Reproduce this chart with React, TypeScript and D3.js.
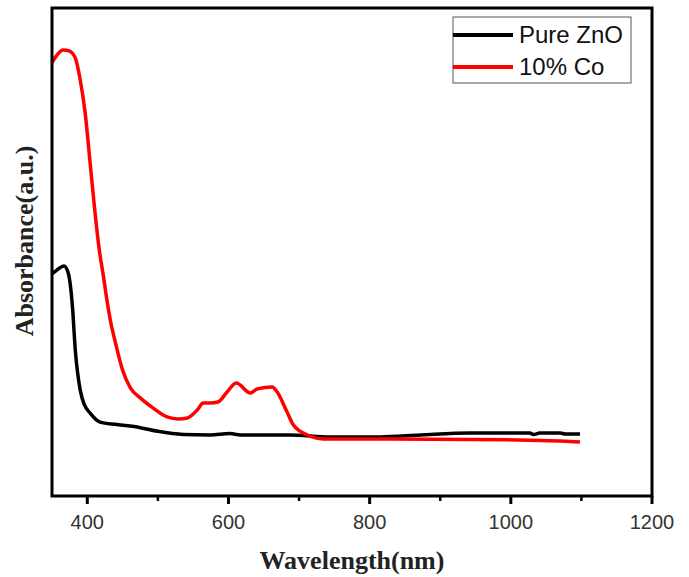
import React from "react";
import * as d3 from "d3";

const wavelengthsRed = [350, 357, 366, 374, 383, 390, 397, 404, 411, 417, 423, 428, 433, 440, 450, 461, 475, 493, 513, 529, 542, 557, 564, 574, 585, 598, 611, 631, 641, 662, 669, 683, 692, 712, 734, 829, 1009, 1070, 1098];
const valuesRed = [1.775, 1.807, 1.828, 1.824, 1.795, 1.705, 1.57, 1.365, 1.16, 1.008, 0.898, 0.8, 0.715, 0.627, 0.516, 0.443, 0.402, 0.361, 0.324, 0.316, 0.32, 0.357, 0.381, 0.381, 0.385, 0.426, 0.463, 0.422, 0.439, 0.447, 0.426, 0.344, 0.291, 0.25, 0.234, 0.234, 0.23, 0.225, 0.221];

const wavelengthsBlack = [350, 357, 367, 373, 379, 383, 390, 396, 404, 418, 442, 475, 500, 536, 574, 602, 617, 687, 744, 815, 872, 942, 1027, 1032, 1041, 1070, 1077, 1098];
const valuesBlack = [0.91, 0.926, 0.943, 0.914, 0.775, 0.598, 0.434, 0.373, 0.34, 0.303, 0.293, 0.28, 0.265, 0.252, 0.25, 0.256, 0.25, 0.25, 0.242, 0.242, 0.25, 0.258, 0.258, 0.252, 0.258, 0.258, 0.254, 0.254];

const majorTicks = [400, 600, 800, 1000, 1200];
const minorTicks = [500, 700, 900, 1100];
const seriesNames = ["Pure ZnO", "10% Co"];
const seriesColors = ["#000000", "#ff0000"];

const W = 689, H = 577;
const L = 52, R = 652, T = 8, B = 496;

export default function App() {
  const x = d3.scaleLinear().domain([350, 1200]).range([L, R]);
  const y = d3.scaleLinear().domain([0, 2]).range([B, T]);
  const line = d3.line<[number, number]>().x(d => x(d[0])).y(d => y(d[1])).curve(d3.curveMonotoneX);
  const black = line(wavelengthsBlack.map((w, i) => [w, valuesBlack[i]]) as [number, number][]) || "";
  const red = line(wavelengthsRed.map((w, i) => [w, valuesRed[i]]) as [number, number][]) || "";
  return (
    <svg width={W} height={H} style={{ position: "absolute", left: 0, top: 0, background: "#fff" }}>
      <rect x={0} y={0} width={W} height={H} fill="#fff" />
      <path d={black} fill="none" stroke={seriesColors[0]} strokeWidth={3.5} strokeLinejoin="round" />
      <path d={red} fill="none" stroke={seriesColors[1]} strokeWidth={3.5} strokeLinejoin="round" />
      <rect x={L} y={T} width={R - L} height={B - T} fill="none" stroke="#000" strokeWidth={3} />
      {majorTicks.map(t => (
        <g key={t}>
          <line x1={x(t)} x2={x(t)} y1={B} y2={B + 8} stroke="#000" strokeWidth={3} />
          <text x={x(t)} y={529} textAnchor="middle" fontFamily="Liberation Sans, Arial, sans-serif" fontSize={20} fill="#333">{t}</text>
        </g>
      ))}
      {minorTicks.map(t => (
        <line key={t} x1={x(t)} x2={x(t)} y1={B} y2={B + 5} stroke="#000" strokeWidth={2.5} />
      ))}
      <text x={352} y={569} textAnchor="middle" fontFamily="Liberation Serif, 'Times New Roman', serif" fontWeight="bold" fontSize={26} fill="#222">Wavelength(nm)</text>
      <text transform={`translate(33,241) rotate(-90)`} textAnchor="middle" fontFamily="Liberation Serif, 'Times New Roman', serif" fontWeight="bold" fontSize={26} fill="#222">Absorbance(a.u.)</text>
      <rect x={453} y={17} width={178} height={66} fill="#fff" stroke="#555" strokeWidth={1} />
      {seriesNames.map((n, i) => (
        <g key={n}>
          <line x1={453} x2={513} y1={35 + i * 32} y2={35 + i * 32} stroke={seriesColors[i]} strokeWidth={4} />
          <text x={519} y={43 + i * 32} fontFamily="Liberation Sans, Arial, sans-serif" fontSize={24} fill="#111">{n}</text>
        </g>
      ))}
    </svg>
  );
}
